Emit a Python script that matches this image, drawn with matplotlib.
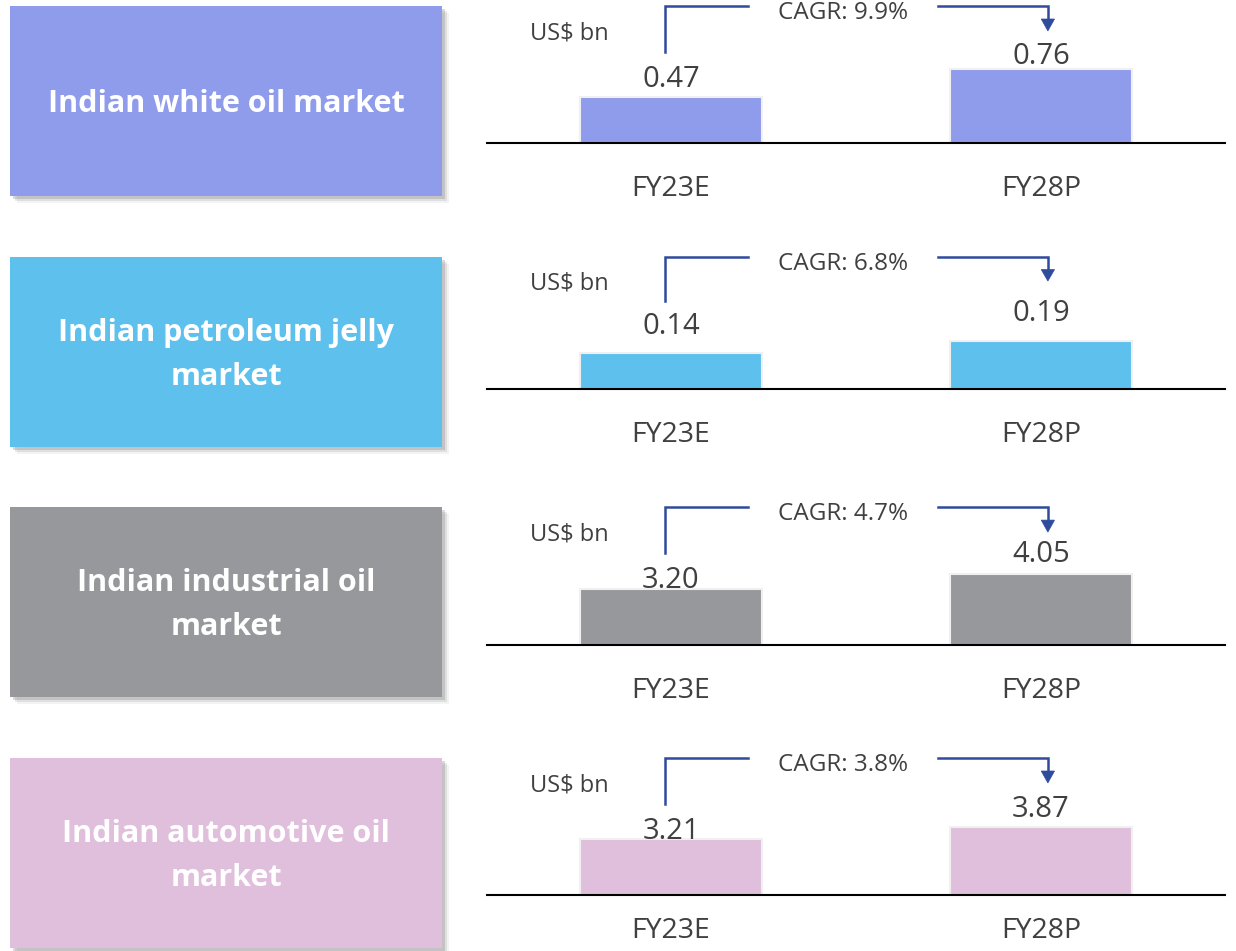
import matplotlib
matplotlib.use("Agg")
import matplotlib.pyplot as plt
from matplotlib.patches import Rectangle, Polygon

plt.rcParams["font.family"] = ["Open Sans", "DejaVu Sans"]

# data
titles = ["Indian white oil market", "Indian petroleum jelly\nmarket",
          "Indian industrial oil\nmarket", "Indian automotive oil\nmarket"]
years = ["FY23E", "FY28P"]
fy23 = [0.47, 0.14, 3.20, 3.21]
fy28 = [0.76, 0.19, 4.05, 3.87]
cagr = ["9.9%", "6.8%", "4.7%", "3.8%"]
colors = ["#8f9beb", "#5ec0ec", "#97989b", "#dfbfdc"]
ymax = [1.41, 0.52, 7.85, 7.8]            # per-panel scale
label_gap = [[10, 5], [19, 20], [1, 12], [0, 10]]  # px above bar top

W, H = 1236, 951
fig = plt.figure(figsize=(W / 100, H / 100), dpi=100)

# background layer in pixel coordinates for the coloured boxes
bg = fig.add_axes([0, 0, 1, 1])
bg.set_xlim(0, W)
bg.set_ylim(H, 0)
bg.axis("off")

box_top = [6, 257, 507, 758]
base_y = [143, 389, 645, 895]
tick_pad = [23, 23, 23, 16]
ink = "#404040"
blue = "#2f4b9b"

for k in range(4):
    top = box_top[k]
    # soft shadow
    for d, a in [(7, 0.08), (5, 0.15), (3, 0.25)]:
        bg.add_patch(Rectangle((10 + d, top + d), 432, 190, fc="#707070",
                               ec="none", alpha=a, zorder=1))
    bg.add_patch(Rectangle((10, top), 432, 190, fc=colors[k], ec="none", zorder=2))
    bg.text(226, top + 98, titles[k], ha="center", va="center", color="white",
            fontsize=22, fontweight="bold", linespacing=1.64, zorder=3)

    # chart axes: from baseline up to box top
    h = base_y[k] - top
    ax = fig.add_axes([487 / W, 1 - base_y[k] / H, 738 / W, h / H])
    ax.patch.set_alpha(0)
    vals = [fy23[k], fy28[k]]
    ax.bar([0, 1], vals, width=0.49, color=colors[k], edgecolor="#f0f0f0",
           linewidth=1.5, zorder=2)
    ax.set_xlim(-0.497, 1.497)
    ax.set_ylim(0, ymax[k])
    for s in ["top", "right", "left"]:
        ax.spines[s].set_visible(False)
    ax.spines["bottom"].set_linewidth(1.5)
    ax.spines["bottom"].set_color("black")
    ax.set_yticks([])
    ax.set_xticks([0, 1])
    ax.set_xticklabels(years, fontsize=20.5, color=ink)
    ax.tick_params(axis="x", length=0, pad=tick_pad[k])

    for i, v in enumerate(vals):
        ax.annotate(f"{v:.2f}", (i, v), xytext=(0, label_gap[k][i] / 1.389),
                    textcoords="offset points", ha="center", va="baseline",
                    fontsize=21, color=ink, annotation_clip=False)

    ax.text(0.111, 0.80, "US$ bn", transform=ax.transAxes, ha="center",
            va="center", fontsize=17, color=ink)
    ax.text(0.482, 0.95, f"CAGR: {cagr[k]}", transform=ax.transAxes,
            ha="center", va="center", fontsize=17.5, color=ink)

    # CAGR bracket
    t = ax.transAxes
    ax.plot([0.241, 0.241, 0.354], [0.664, 1.0, 1.0], color=blue, lw=1.8,
            transform=t, clip_on=False, solid_joinstyle="miter")
    ax.plot([0.611, 0.760, 0.760], [1.0, 1.0, 0.90], color=blue, lw=1.8,
            transform=t, clip_on=False, solid_joinstyle="miter")
    ax.add_patch(Polygon([[0.751, 0.905], [0.769, 0.905], [0.760, 0.818]],
                         closed=True, fc=blue, ec=blue, lw=0.5,
                         transform=t, clip_on=False))

fig.savefig("out.png", dpi=100)
